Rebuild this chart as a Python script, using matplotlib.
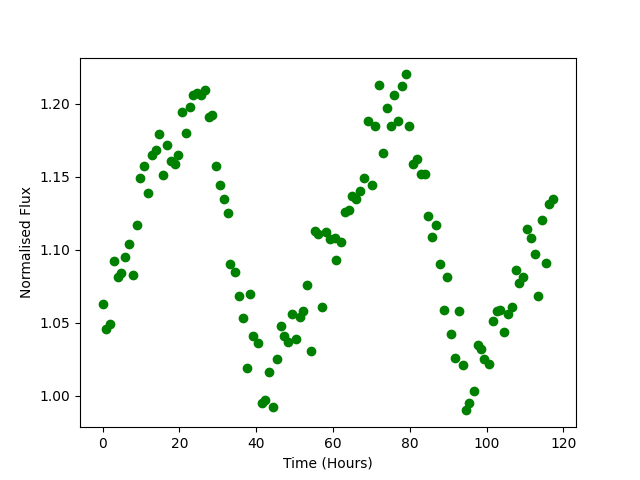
import matplotlib
matplotlib.use("Agg")
import matplotlib.pyplot as plt

time_hours = [
    0.0, 0.8, 2.0, 2.9, 4.0, 4.9, 5.8, 6.9, 7.9, 8.9,
    9.7, 10.8, 11.8, 12.8, 13.9, 14.7, 15.7, 16.7, 17.8, 18.8,
    19.6, 20.6, 21.7, 22.7, 23.5, 24.5, 25.6, 26.6, 27.7, 28.5,
    29.5, 30.5, 31.6, 32.6, 33.3, 34.4, 35.5, 36.5, 37.6, 38.3,
    39.3, 40.4, 41.5, 42.3, 43.3, 44.3, 45.4, 46.4, 47.2, 48.2,
    49.2, 50.3, 51.3, 52.2, 53.2, 54.2, 55.2, 56.2, 57.2, 58.2,
    59.3, 60.4, 60.9, 62.0, 63.0, 64.1, 65.0, 66.0, 67.0, 68.0,
    69.1, 70.1, 70.9, 71.9, 73.0, 74.0, 75.0, 75.8, 76.9, 77.9,
    78.9, 79.7, 80.8, 81.8, 82.8, 84.0, 84.7, 85.7, 86.8, 87.8,
    88.8, 89.6, 90.7, 91.7, 92.7, 93.8, 94.5, 95.5, 96.6, 97.7,
    98.6, 99.4, 100.5, 101.6, 102.6, 103.5, 104.5, 105.5, 106.5, 107.6,
    108.4, 109.5, 110.4, 111.5, 112.5, 113.3, 114.3, 115.4, 116.3, 117.4,
]

normalised_flux = [
    1.063, 1.046, 1.049, 1.092, 1.081, 1.084, 1.095, 1.104, 1.083, 1.117,
    1.149, 1.157, 1.139, 1.165, 1.168, 1.179, 1.151, 1.172, 1.161, 1.159,
    1.165, 1.194, 1.180, 1.198, 1.206, 1.207, 1.206, 1.209, 1.191, 1.192,
    1.157, 1.144, 1.135, 1.125, 1.090, 1.085, 1.068, 1.053, 1.019, 1.070,
    1.041, 1.036, 0.995, 0.997, 1.016, 0.992, 1.025, 1.048, 1.041, 1.037,
    1.056, 1.039, 1.054, 1.058, 1.076, 1.031, 1.113, 1.111, 1.061, 1.112,
    1.107, 1.108, 1.093, 1.105, 1.126, 1.127, 1.137, 1.135, 1.140, 1.149,
    1.188, 1.144, 1.185, 1.213, 1.166, 1.197, 1.185, 1.206, 1.188, 1.212,
    1.220, 1.185, 1.159, 1.162, 1.152, 1.152, 1.123, 1.109, 1.117, 1.090,
    1.059, 1.081, 1.042, 1.026, 1.058, 1.021, 0.990, 0.995, 1.003, 1.035,
    1.032, 1.025, 1.022, 1.051, 1.058, 1.059, 1.044, 1.056, 1.061, 1.086,
    1.077, 1.081, 1.114, 1.108, 1.097, 1.068, 1.120, 1.091, 1.131, 1.135,
]

fig, ax = plt.subplots(figsize=(6.4, 4.8), dpi=100)
ax.plot(time_hours, normalised_flux, 'o', color='green')
ax.set_xlabel('Time (Hours)')
ax.set_ylabel('Normalised Flux')
fig.savefig('out.png', dpi=100)
